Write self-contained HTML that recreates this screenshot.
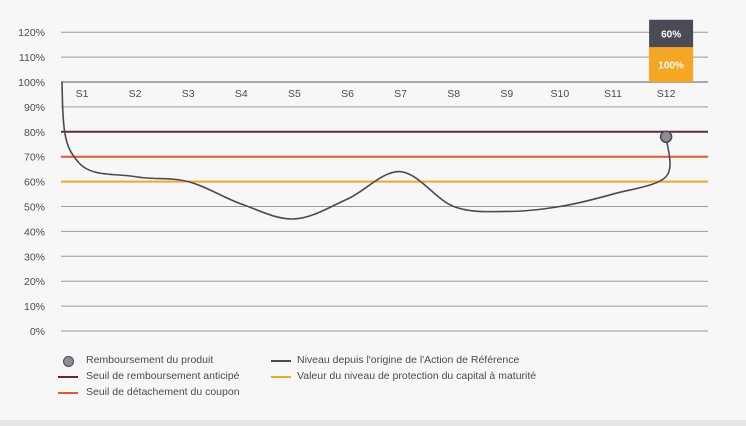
<!DOCTYPE html>
<html><head><meta charset="utf-8"><style>
body{margin:0;background:#f7f7f7;font-family:"Liberation Sans",sans-serif;}
#wrap{position:relative;width:746px;height:426px;background:#f7f7f7;overflow:hidden}
#strip{position:absolute;left:0;top:420px;width:746px;height:6px;background:#e6e6e6}
.leg{position:absolute;font-size:10.5px;color:#4a4a55;white-space:nowrap}
.sw{position:absolute;width:20px;height:2px}
</style></head><body>
<div id="wrap">
<svg id="chart" width="746" height="426"></svg>
<div class="leg" style="left:62px;top:354px"><span style="position:absolute;left:1px;top:2px;width:9px;height:9px;border-radius:50%;background:#8d8d93;border:1.5px solid #4a4a55"></span><span style="position:absolute;left:24px">Remboursement du produit</span></div>
<div class="leg" style="left:62px;top:370px"><span class="sw" style="left:-4px;top:6px;background:#6b2a33"></span><span style="position:absolute;left:24px">Seuil de remboursement anticipé</span></div>
<div class="leg" style="left:62px;top:386px"><span class="sw" style="left:-4px;top:6px;background:#e8582a"></span><span style="position:absolute;left:24px">Seuil de détachement du coupon</span></div>
<div class="leg" style="left:275px;top:354px"><span class="sw" style="left:-4px;top:6px;background:#4a4a55"></span><span style="position:absolute;left:22px">Niveau depuis l'origine de l'Action de Référence</span></div>
<div class="leg" style="left:275px;top:370px"><span class="sw" style="left:-4px;top:6px;background:#f5a623"></span><span style="position:absolute;left:22px">Valeur du niveau de protection du capital à maturité</span></div>
<div id="strip"></div>
</div>
<script>
const categories=["S1","S2","S3","S4","S5","S6","S7","S8","S9","S10","S11","S12"];
const yTicks=[0,10,20,30,40,50,60,70,80,90,100,110,120];
const levelValues=[68,62,60,51,45,53,64,50,48,50,55,62];
const startValue=100;
const redemptionValue=78;
const thresholds=[80,70,60];
const thresholdColors=["#6b2a33","#e8582a","#f5a623"];
const barValues=[14,11];
const barLabels=["100%","60%"];
const NS="http://www.w3.org/2000/svg";
const svg=document.getElementById("chart");
const X0=61,X1=708;
function y(v){return 331-v*(249/100);}
function x(i){return 82+i*53.1;}
function el(t,a){const e=document.createElementNS(NS,t);for(const k in a)e.setAttribute(k,a[k]);svg.appendChild(e);return e;}
yTicks.forEach(t=>{
 const l=el("line",{x1:X0,x2:X1,y1:y(t),y2:y(t),stroke:t===100?"#a8a8a8":"#9a9a9a","stroke-width":t===100?2:1});
 
 
 const tx=el("text",{x:45,y:y(t)+4,"text-anchor":"end","font-size":"10.5",fill:"#4a4a55"});
 tx.textContent=t+"%";
 
 
});
categories.forEach((c,i)=>{
 const tx=el("text",{x:x(i),y:y(100)+15,"text-anchor":"middle","font-size":"10.5",fill:"#4a4a55"});
 tx.textContent=c;
 
 
});
thresholds.forEach((t,i)=>{
 const l=el("line",{x1:X0,x2:X1,y1:y(t),y2:y(t),stroke:thresholdColors[i],"stroke-width":2});
 
 
});
// bar at S12
let base=100;const bc=["#f5a623","#4a4b55"];
barValues.forEach((v,i)=>{
 const r=el("rect",{x:x(11)-17,width:44,y:y(base+v),height:y(base)-y(base+v),fill:bc[i]});
 
 
 const tx=el("text",{x:x(11)+5,y:(y(base)+y(base+v))/2+4,"text-anchor":"middle","font-size":"10","font-weight":"bold",fill:"#fff"});
 tx.textContent=barLabels[i];
 
 
 base+=v;
});
// level curve
const pts=[[X0+1,y(startValue)]].concat(levelValues.map((v,i)=>[x(i)+(i===0?-4:0),y(v)]));
pts.push([x(11),y(redemptionValue)]);
let d="M"+pts[0][0]+","+pts[0][1];
for(let i=0;i<pts.length-1;i++){
 const p0=pts[Math.max(0,i-1)],p1=pts[i],p2=pts[i+1],p3=pts[Math.min(pts.length-1,i+2)];
 const c1=[p1[0]+(p2[0]-p0[0])/6,p1[1]+(p2[1]-p0[1])/6];
 const c2=[p2[0]-(p3[0]-p1[0])/6,p2[1]-(p3[1]-p1[1])/6];
 if(i===0){c1[0]=p1[0]+1;c1[1]=p1[1]+50;c2[0]=p2[0]-14;}
 d+=` C${c1[0]},${c1[1]} ${c2[0]},${c2[1]} ${p2[0]},${p2[1]}`;
}
const path=el("path",{d:d,fill:"none",stroke:"#4a4a55","stroke-width":1.6});


const dot=el("circle",{cx:x(11),cy:y(redemptionValue),r:5.5,fill:"#8d8d93",stroke:"#4a4a55","stroke-width":1.5});


</script>
</body></html>
